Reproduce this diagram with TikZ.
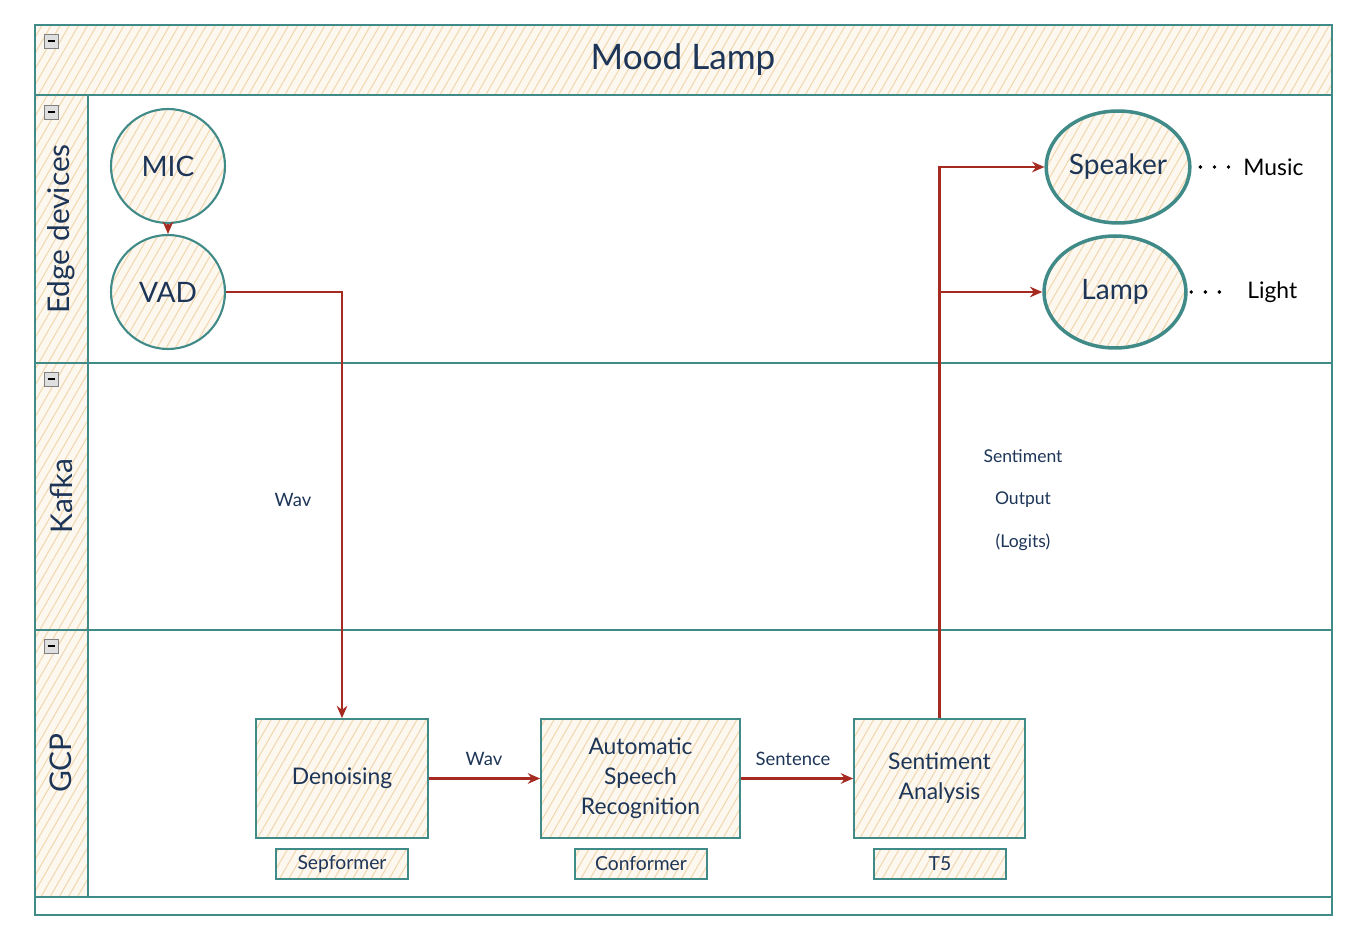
\documentclass[tikz,border=0pt]{standalone}
\usepackage{fontspec}
\setmainfont{Lato}
\usetikzlibrary{arrows.meta, shapes.geometric, patterns.meta}
\definecolor{lineaTeal}{RGB}{64,138,136}
\definecolor{flechaRoja}{RGB}{165,42,32}
\definecolor{textoAzul}{RGB}{29,53,87}
\definecolor{rayado}{RGB}{242,216,176}

\begin{document}
\begin{tikzpicture}[
    x=0.02cm, y=-0.02cm,
    hatch/.style={preaction={fill=rayado!20}, pattern={Lines[angle=60, distance=4.5pt, line width=0.6pt]}, pattern color=rayado},
    carril/.style={draw=lineaTeal, line width=1pt},
    circulo/.style={circle, hatch, draw=lineaTeal, line width=1.2pt, minimum size=2.28cm, text=textoAzul, font=\fontsize{16}{19}\selectfont},
    ovalo/.style={ellipse, hatch, draw=lineaTeal, line width=2pt, minimum width=2.84cm, minimum height=2.24cm, inner sep=1pt, text=textoAzul, font=\fontsize{16}{19}\selectfont},
    proceso/.style={rectangle, hatch, draw=lineaTeal, line width=1pt, minimum height=2.38cm, align=center, text=textoAzul, font=\fontsize{13}{17}\selectfont},
    modelo/.style={rectangle, hatch, draw=lineaTeal, line width=1pt, minimum width=2.64cm, minimum height=0.6cm, inner sep=0pt, text=textoAzul, font=\fontsize{11}{13}\selectfont},
    flujo/.style={-{Stealth[open, length=7pt, width=6pt]}, flechaRoja, line width=1.2pt},
    etiqueta/.style={text=textoAzul, font=\fontsize{10.5}{12}\selectfont},
    puntos/.style={line width=2.2pt, line cap=round, dash pattern=on 0pt off 8pt}
]
    \useasboundingbox (0,0) rectangle (1366,952);

    % --- POOL Y CARRILES ---
    \draw[carril, hatch] (35,25) rectangle (1332,95);
    \node[text=textoAzul, font=\fontsize{20}{24}\selectfont] (titulo) at (683,60) {Mood Lamp};
    \draw[carril] (35,25) rectangle (1332,915);
    \foreach \ya/\yb in {95/363, 363/630, 630/897} {
        \draw[carril, hatch] (35,\ya) rectangle (88,\yb);
        \draw[carril] (88,\ya) rectangle (1332,\yb);
    }
    \node[rotate=90, text=textoAzul, font=\fontsize{17}{20}\selectfont] (edge) at (61,229) {Edge devices};
    \node[rotate=90, text=textoAzul, font=\fontsize{17}{20}\selectfont] (kafka) at (61,496) {Kafka};
    \node[rotate=90, text=textoAzul, font=\fontsize{17}{20}\selectfont] (gcp) at (61,763) {GCP};
    \foreach \y in {41, 112, 379, 646} {
        \draw[gray, fill=gray!25] (44,\y-7) rectangle (58,\y+7);
        \draw[black, line width=1.2pt] (47.5,\y) -- (54.5,\y);
    }

    % --- EDGE DEVICES ---
    \node[circulo] (mic) at (168,166) {MIC};
    \node[circulo] (vad) at (168,292) {VAD};
    \node[ovalo] (speaker) at (1118,167) {Speaker};
    \node[ovalo] (lamp) at (1115,292) {Lamp};
    \node[anchor=west, inner sep=4pt, font=\fontsize{13}{15}\selectfont] (music) at (1236,167) {Music};
    \node[anchor=west, inner sep=4pt, font=\fontsize{13}{15}\selectfont] (light) at (1240,292) {Light};
    \draw[puntos] ([xshift=5pt]speaker.east) -- (music.west);
    \draw[puntos] ([xshift=2pt]lamp.east) -- ([xshift=-5pt]light.west);

    % --- GCP ---
    \node[proceso, minimum width=3.44cm] (denoise) at (342,778.5) {Denoising};
    \node[proceso, minimum width=3.98cm] (asr) at (640.5,778.5) {Automatic\\Speech\\Recognition};
    \node[proceso, minimum width=3.42cm] (sentiment) at (939.5,778.5) {Sentiment\\Analysis};
    \node[modelo] (sepformer) at (342,864) {Sepformer};
    \node[modelo] (conformer) at (641,864) {Conformer};
    \node[modelo] (t5) at (940,864) {T5};

    % --- FLUJOS ---
    \draw[flujo] (mic) -- (vad);
    \draw[flujo] (vad.east) -| (denoise.north);
    \draw[flujo] (denoise) -- (asr);
    \draw[flujo] (asr) -- (sentiment);
    \draw[flujo] (sentiment.north) |- (speaker.west);
    \draw[flujo] (sentiment.north) |- (lamp.west);
    \node[etiqueta] (wav1) at (293,500) {Wav};
    \node[etiqueta] (wav2) at (484,759) {Wav};
    \node[etiqueta] (sentence) at (793,759) {Sentence};
    \node[etiqueta, align=center, font=\fontsize{10}{12}\selectfont] (logits) at (1023,500) {Sentiment\\[12pt]Output\\[12pt](Logits)};

\end{tikzpicture}
\end{document}
